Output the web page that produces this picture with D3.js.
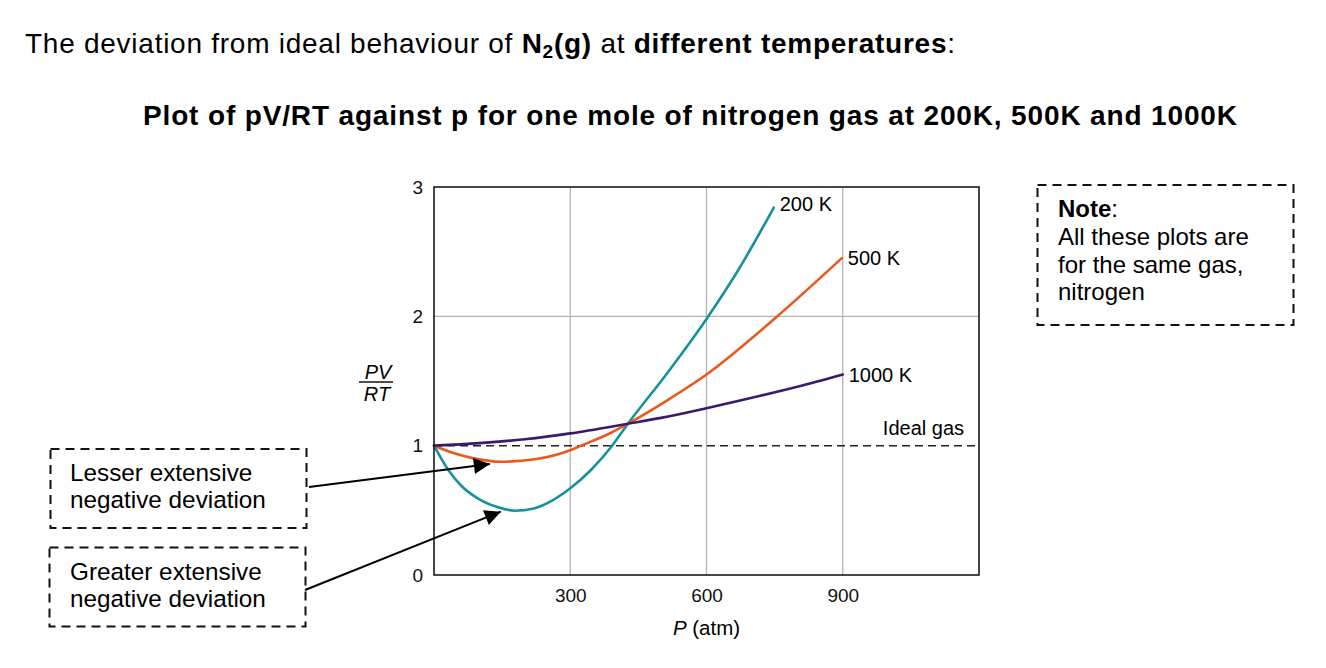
<!DOCTYPE html>
<html>
<head>
<meta charset="utf-8">
<script src="https://cdn.jsdelivr.net/npm/d3@7"></script>
<style>
  body { margin: 0; background: #fff; }
  svg { display: block; font-family: "Liberation Sans", Arial, Helvetica, sans-serif; }
</style>
</head>
<body>
<div class="chart"></div>
<script>
// pV/RT vs p for N2 at three temperatures

// pressure (atm) and compressibility
var p200 = [0, 30, 60, 100, 140, 177, 220, 260, 300, 345, 390, 427, 510, 600, 672, 748];
var z200 = [1.0, 0.82, 0.69, 0.585, 0.525, 0.497, 0.515, 0.575, 0.67, 0.81, 0.99, 1.17, 1.545, 1.98, 2.37, 2.84];

var p500 = [0, 50, 90, 148, 222, 300, 324, 390, 427, 511, 600, 746, 898];
var z500 = [1.0, 0.935, 0.90, 0.876, 0.895, 0.965, 1.0, 1.10, 1.17, 1.345, 1.55, 1.97, 2.45];

var p1000 = [0, 100, 200, 300, 427, 500, 600, 700, 800, 900];
var z1000 = [1.0, 1.02, 1.05, 1.095, 1.17, 1.215, 1.29, 1.37, 1.455, 1.55];

var seriesNames = ["200 K", "500 K", "1000 K"];
var seriesColors = ["#17929b", "#e85a1b", "#3b1a6d"];

var xTicks = [300, 600, 900];
var yTicks = [0, 1, 2, 3];
var idealZ = 1;

// arrow tips in data units (p, z)
var arrowTipP = [123, 147];
var arrowTipZ = [0.858, 0.49];

// svg container
var svgWidth = 1326;
var svgHeight = 668;

var margin = { top: 187, left: 434, right: 347, bottom: 93 };
var chartWidth = svgWidth - margin.left - margin.right;
var chartHeight = svgHeight - margin.top - margin.bottom;

var svg = d3.select(".chart")
  .append("svg")
  .attr("width", svgWidth)
  .attr("height", svgHeight);

svg.append("rect")
  .attr("width", svgWidth)
  .attr("height", svgHeight)
  .attr("fill", "#fff");

// headings
var head = svg.append("text")
  .attr("x", 25)
  .attr("y", 53)
  .attr("font-size", "28px")
  .attr("textLength", 930)
  .attr("lengthAdjust", "spacing")
  .attr("fill", "#000");
head.append("tspan").text("The deviation from ideal behaviour of ");
head.append("tspan").attr("font-weight", "bold").text("N");
head.append("tspan").attr("font-weight", "bold").attr("font-size", "19px").attr("dy", 5).text("2");
head.append("tspan").attr("font-weight", "bold").attr("dy", -5).text("(g)");
head.append("tspan").text(" at ");
head.append("tspan").attr("font-weight", "bold").text("different temperatures");
head.append("tspan").text(":");

svg.append("text")
  .attr("x", 143)
  .attr("y", 125)
  .attr("font-size", "28px")
  .attr("font-weight", "bold")
  .attr("textLength", 1094)
  .attr("lengthAdjust", "spacing")
  .text("Plot of pV/RT against p for one mole of nitrogen gas at 200K, 500K and 1000K");

var chartGroup = svg.append("g")
  .attr("transform", `translate(${margin.left}, ${margin.top})`);

// scales
var xScale = d3.scaleLinear()
  .domain([0, 1200])
  .range([0, chartWidth]);

var yScale = d3.scaleLinear()
  .domain([0, 3])
  .range([chartHeight, 0]);

// gridlines
chartGroup.selectAll(".vgrid")
  .data(xTicks)
  .enter()
  .append("line")
  .attr("x1", d => xScale(d))
  .attr("x2", d => xScale(d))
  .attr("y1", 0)
  .attr("y2", chartHeight)
  .attr("stroke", "#b4b4b4")
  .attr("stroke-width", 1.3);

chartGroup.selectAll(".hgrid")
  .data([2])
  .enter()
  .append("line")
  .attr("x1", 0)
  .attr("x2", chartWidth)
  .attr("y1", d => yScale(d))
  .attr("y2", d => yScale(d))
  .attr("stroke", "#b4b4b4")
  .attr("stroke-width", 1.3);

// axes (labels only, no tick marks)
var bottomAxis = d3.axisBottom(xScale).tickValues(xTicks).tickSize(0).tickPadding(14);
var leftAxis = d3.axisLeft(yScale).tickValues(yTicks).tickSize(0).tickPadding(11).tickFormat(d3.format("d"));

var xAxisG = chartGroup.append("g")
  .attr("transform", `translate(0, ${chartHeight})`)
  .call(bottomAxis);
var yAxisG = chartGroup.append("g")
  .call(leftAxis);

[xAxisG, yAxisG].forEach(function (g) {
  g.select(".domain").remove();
  g.selectAll("text")
    .attr("font-size", "19px")
    .attr("font-family", "Liberation Sans, Arial, sans-serif")
    .attr("fill", "#111");
});

// ideal gas line
chartGroup.append("line")
  .attr("x1", xScale(0))
  .attr("x2", xScale(1200))
  .attr("y1", yScale(idealZ))
  .attr("y2", yScale(idealZ))
  .attr("stroke", "#222")
  .attr("stroke-width", 1.5)
  .attr("stroke-dasharray", "8,5");

chartGroup.append("text")
  .attr("x", xScale(1167))
  .attr("y", yScale(idealZ) - 11)
  .attr("text-anchor", "end")
  .attr("font-size", "20px")
  .text("Ideal gas");

// curves
var allP = [p200, p500, p1000];
var allZ = [z200, z500, z1000];

var line = d3.line()
  .x(d => xScale(d[0]))
  .y(d => yScale(d[1]))
  .curve(d3.curveMonotoneX);

allP.forEach(function (ps, i) {
  var pts = ps.map((p, j) => [p, allZ[i][j]]);

  chartGroup.append("path")
    .datum(pts)
    .attr("fill", "none")
    .attr("stroke", seriesColors[i])
    .attr("stroke-width", 2.6)
    .attr("stroke-linecap", "round")
    .attr("d", line);

  var last = pts[pts.length - 1];
  chartGroup.append("text")
    .attr("x", xScale(last[0]) + 6)
    .attr("y", yScale(last[1]) + (i == 0 ? 3 : 7))
    .attr("font-size", "20px")
    .text(seriesNames[i]);
});

// frame
chartGroup.append("rect")
  .attr("width", chartWidth)
  .attr("height", chartHeight)
  .attr("fill", "none")
  .attr("stroke", "#1a1a1a")
  .attr("stroke-width", 1.6);

// axis titles
var xLabel = svg.append("text")
  .attr("x", margin.left + xScale(600))
  .attr("y", 635)
  .attr("text-anchor", "middle")
  .attr("font-size", "20.5px");
xLabel.append("tspan").attr("font-style", "italic").text("P");
xLabel.append("tspan").text(" (atm)");

svg.append("text")
  .attr("x", 378)
  .attr("y", 379)
  .attr("text-anchor", "middle")
  .attr("font-size", "20px")
  .attr("font-style", "italic")
  .text("PV");
svg.append("line")
  .attr("x1", 359)
  .attr("x2", 393)
  .attr("y1", 382)
  .attr("y2", 382)
  .attr("stroke", "#111")
  .attr("stroke-width", 1.5);
svg.append("text")
  .attr("x", 377)
  .attr("y", 401)
  .attr("text-anchor", "middle")
  .attr("font-size", "20px")
  .attr("font-style", "italic")
  .text("RT");

// dashed annotation boxes
function dashedBox(x, y, w, h) {
  svg.append("rect")
    .attr("x", x)
    .attr("y", y)
    .attr("width", w)
    .attr("height", h)
    .attr("fill", "none")
    .attr("stroke", "#111")
    .attr("stroke-width", 2)
    .attr("stroke-dasharray", "9,6");
}

dashedBox(50.5, 449, 256, 79);
dashedBox(49.5, 547.5, 256, 79);
dashedBox(1037.5, 185, 256, 140);

var lesser = ["Lesser extensive", "negative deviation"];
var greater = ["Greater extensive", "negative deviation"];

svg.selectAll(".lesser")
  .data(lesser)
  .enter()
  .append("text")
  .attr("x", 70)
  .attr("y", (d, i) => 481 + i * 27)
  .attr("font-size", "24.3px")
  .text(d => d);

svg.selectAll(".greater")
  .data(greater)
  .enter()
  .append("text")
  .attr("x", 70)
  .attr("y", (d, i) => 580 + i * 27)
  .attr("font-size", "24.3px")
  .text(d => d);

var note = svg.append("text")
  .attr("x", 1058)
  .attr("y", 217)
  .attr("font-size", "24px");
note.append("tspan").attr("font-weight", "bold").text("Note");
note.append("tspan").text(":");

["All these plots are", "for the same gas,", "nitrogen"].forEach(function (t, i) {
  svg.append("text")
    .attr("x", 1058)
    .attr("y", 245 + i * 27.5)
    .attr("font-size", "24px")
    .text(t);
});

// arrows from boxes to curves
svg.append("defs").append("marker")
  .attr("id", "head")
  .attr("viewBox", "0 0 10 10")
  .attr("refX", 10)
  .attr("refY", 5)
  .attr("markerWidth", 9)
  .attr("markerHeight", 8)
  .attr("markerUnits", "strokeWidth")
  .attr("orient", "auto")
  .append("path")
  .attr("d", "M0,0 L10,5 L0,10 Z")
  .attr("fill", "#000");

var tails = [[309, 487], [305, 590]];
tails.forEach(function (t, i) {
  svg.append("line")
    .attr("x1", t[0])
    .attr("y1", t[1])
    .attr("x2", margin.left + xScale(arrowTipP[i]))
    .attr("y2", margin.top + yScale(arrowTipZ[i]))
    .attr("stroke", "#000")
    .attr("stroke-width", 2)
    .attr("marker-end", "url(#head)");
});
</script>
</body>
</html>
